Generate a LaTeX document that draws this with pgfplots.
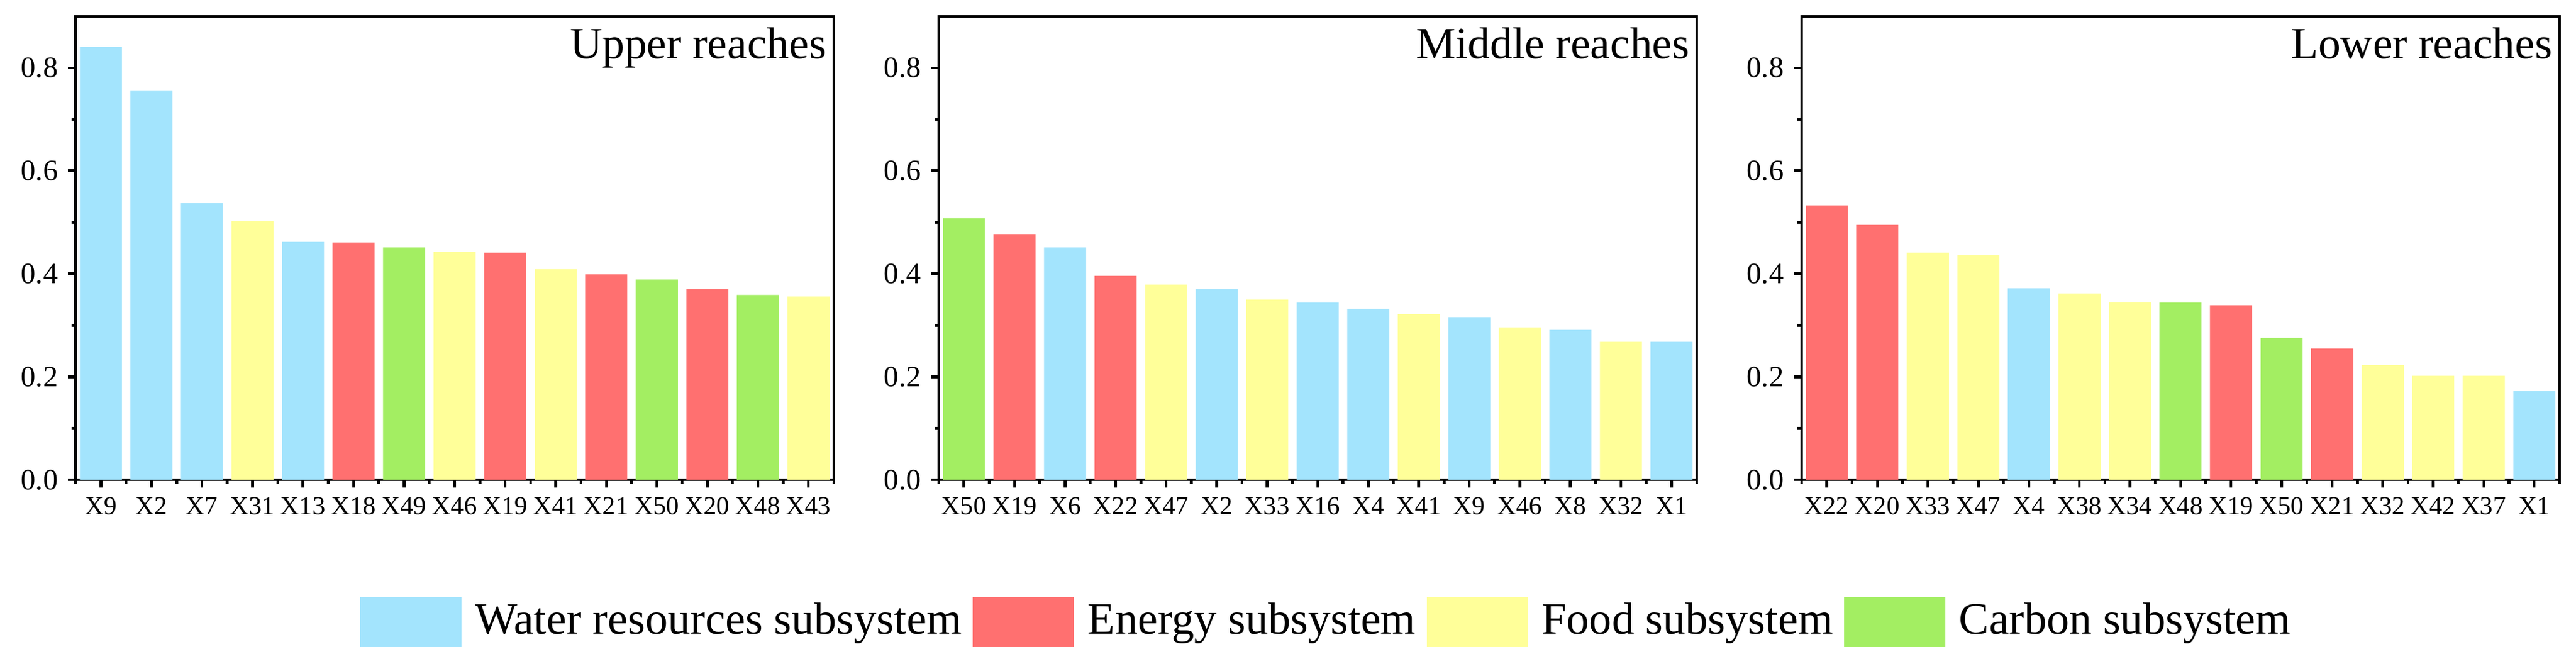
\documentclass[border=0pt]{standalone}
\usepackage{fontspec}
\setmainfont{Liberation Serif}
\usepackage{pgfplots}
\pgfplotsset{compat=1.18}

\definecolor{water}{RGB}{163,228,253}
\definecolor{energy}{RGB}{255,112,112}
\definecolor{food}{RGB}{255,255,153}
\definecolor{carbon}{RGB}{163,238,98}

\pgfplotsset{
  reach/.style={
    scale only axis, width=166.67pt, height=101.9pt,
    anchor=north west,
    xmin=-0.5, xmax=14.5, ymin=0, ymax=0.9,
    ybar, bar width=0.832, bar shift=0pt,
    axis line style={line width=0.6pt},
    tick pos=left, tick align=outside,
    major tick length=1.7pt, minor tick length=0.85pt,
    every tick/.style={black, line width=0.6pt},
    xtick={0,...,14}, minor xtick={-0.5,0.5,...,14.5},
    ytick={0,0.2,0.4,0.6,0.8}, minor ytick={0.1,0.3,0.5,0.7},
    /pgf/number format/assume math mode=true,
    yticklabel style={/pgf/number format/fixed, /pgf/number format/fixed zerofill,
      /pgf/number format/precision=1, font=\rmfamily\fontsize{6.5}{7}\selectfont, inner sep=2pt},
    xticklabel style={font=\rmfamily\fontsize{5.7}{7}\selectfont, inner sep=2pt},
    every axis plot/.append style={draw=none},
  },
}
\tikzset{
  title node/.style={anchor=base east, inner sep=0pt, xshift=-1.4pt, yshift=-9.3pt,
    font=\rmfamily\fontsize{9.8}{12}\selectfont},
}

\begin{document}
\begin{tikzpicture}
\useasboundingbox (0,0) rectangle (566.4pt,-146pt);

% upper reaches
\begin{axis}[reach, at={(16.63pt,-3.6pt)},
  xticklabels={X9,X2,X7,X31,X13,X18,X49,X46,X19,X41,X21,X50,X20,X48,X43}]
\addplot[fill=water] coordinates {(0,0.841) (1,0.756) (2,0.537) (4,0.462)};
\addplot[fill=energy] coordinates {(5,0.461) (8,0.441) (10,0.399) (12,0.370)};
\addplot[fill=food] coordinates {(3,0.502) (7,0.443) (9,0.409) (14,0.356)};
\addplot[fill=carbon] coordinates {(6,0.451) (11,0.389) (13,0.359)};
\node[title node] at (rel axis cs:1,1) {Upper reaches};
\end{axis}

% middle reaches, carries the legend
\begin{axis}[reach, at={(206.4pt,-3.6pt)},
  xticklabels={X50,X19,X6,X22,X47,X2,X33,X16,X4,X41,X9,X46,X8,X32,X1},
  legend columns=4,
  legend image code/.code={\fill (0pt,-5.5pt) rectangle (22.3pt,5.5pt);},
  legend style={at={(-0.7644,-0.307)}, anchor=west, draw=none, fill=none,
    inner sep=0pt, font=\rmfamily\fontsize{9.9}{12}\selectfont, nodes={inner sep=0pt},
    /tikz/every odd column/.append style={column sep=3pt},
    /tikz/every even column/.append style={column sep=2.4pt}}]
\addplot[fill=water] coordinates {(2,0.451) (5,0.370) (7,0.344) (8,0.332) (10,0.316) (12,0.291) (14,0.268)};
\addplot[fill=energy] coordinates {(1,0.477) (3,0.396)};
\addplot[fill=food] coordinates {(4,0.379) (6,0.350) (9,0.322) (11,0.296) (13,0.268)};
\addplot[fill=carbon] coordinates {(0,0.508)};
\legend{Water resources subsystem, Energy subsystem, Food subsystem, Carbon subsystem}
\node[title node] at (rel axis cs:1,1) {Middle reaches};
\end{axis}

% lower reaches
\begin{axis}[reach, at={(396.1pt,-3.6pt)},
  xticklabels={X22,X20,X33,X47,X4,X38,X34,X48,X19,X50,X21,X32,X42,X37,X1}]
\addplot[fill=water] coordinates {(4,0.372) (14,0.172)};
\addplot[fill=energy] coordinates {(0,0.533) (1,0.495) (8,0.339) (10,0.255)};
\addplot[fill=food] coordinates {(2,0.441) (3,0.436) (5,0.362) (6,0.345) (11,0.223) (12,0.202) (13,0.202)};
\addplot[fill=carbon] coordinates {(7,0.344) (9,0.276)};
\node[title node] at (rel axis cs:1,1) {Lower reaches};
\end{axis}
\end{tikzpicture}
\end{document}
